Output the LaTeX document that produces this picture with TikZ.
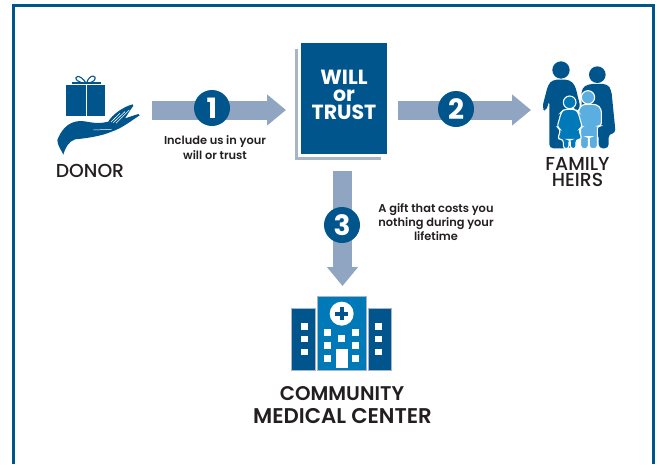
\documentclass[tikz,border=0pt]{standalone}
\usepackage{fontspec}
\setmainfont{Poppins}[UprightFont=* Medium,BoldFont=* SemiBold]
\newfontfamily\heavyfont{Poppins}[UprightFont=* Bold]
\usetikzlibrary{arrows.meta}
\definecolor{navy}{HTML}{00558C}
\definecolor{midblue}{HTML}{0079B8}
\definecolor{lightblue}{HTML}{5AAEE0}
\definecolor{steel}{HTML}{8FA5C2}
\definecolor{pale}{HTML}{A9B4C6}
\definecolor{ink}{HTML}{231F20}
\tikzset{
  x=1pt,y=-1pt,
  bigarrow/.style={draw=steel,line width=19pt,-{Triangle[width=30pt,length=19pt,fill=steel]}},
  numdisc/.style={circle,fill=navy,text=white,minimum size=36pt,inner sep=0pt,font=\fontsize{28}{28}\selectfont\heavyfont},
  capt/.style={align=center,text=ink,inner sep=0pt,font=\fontsize{18.8}{16}\selectfont},
  headline/.style={text=ink,inner sep=0pt,font=\bfseries},
  small/.style={align=center,text=ink,inner sep=0pt,font=\fontsize{11.4}{14.4}\selectfont\bfseries},
  zoomed/.style={x=0.3333pt,y=-0.3333pt},
  win/.style={fill=white},
}
\begin{document}
\begin{tikzpicture}
\useasboundingbox (0,0) rectangle (660,464);
% frame
\draw[navy,line width=3pt] (13,464) -- (13,5.5) -- (653.5,5.5) -- (653.5,464);

% connector end points
\coordinate (a1s) at (152,110);
\coordinate (a1e) at (286,110);
\coordinate (a2s) at (398,110);
\coordinate (a2e) at (531,110);
\coordinate (a3s) at (342.5,171);
\coordinate (a3e) at (342.5,286);

% book
\draw[pale,line width=3pt] (296.5,49) -- (296.5,158.5) -- (381,158.5);
\node[fill=navy,minimum width=86pt,minimum height=111pt,inner sep=0pt,anchor=north west] (book) at (301,43) {};
\node[text=white,align=center,inner sep=0pt,font=\fontsize{20.5}{17.5}\selectfont\heavyfont] (booktitle) at (344,94.5) {WILL\\or\\TRUST};

% arrows
\draw[bigarrow] (a1s) -- (a1e);
\draw[bigarrow] (a2s) -- (a2e);
\draw[bigarrow] (a3s) -- (a3e);
\node[numdisc] (n1) at (212,108) {1};
\node[numdisc] (n2) at (456,109) {2};
\node[numdisc] (n3) at (342,225) {3};

% labels
\node[capt] (donor) at (90,171) {DONOR};
\node[capt] (heirs) at (577.5,172.5) {FAMILY\\HEIRS};
\node[small] (l1) at (215,147.5) {Include us in your\\will or trust};
\node[small] (l3) at (436,222) {A gift that costs you\\nothing during your\\lifetime};
\node[headline,font=\fontsize{19.8}{22}\selectfont\bfseries] (cmc1) at (342,394) {COMMUNITY};
\node[headline,font=\fontsize{21.3}{22}\selectfont\bfseries] (cmc2) at (342.5,416) {MEDICAL CENTER};

% donor icon
\begin{scope}[shift={(30,50)},zoomed]
  \fill[navy] (108,105) rectangle (167,197);
  \fill[navy] (172,105) rectangle (226,197);
  \draw[navy,line width=1.1pt] (125,99) -- (212,99);
  \draw[navy,line width=1.1pt] (168,99) .. controls (150,70) and (128,78) .. (142,92) .. controls (150,99) and (160,99) .. (168,99);
  \draw[navy,line width=1.1pt] (170,99) .. controls (178,70) and (205,75) .. (192,92) .. controls (186,99) and (176,99) .. (170,99);
  \fill[navy] (100,314) .. controls (95,300) and (85,295) .. (82,270)
    .. controls (92,245) and (110,215) .. (150,213)
    .. controls (175,213) and (195,225) .. (235,215)
    .. controls (245,195) and (280,170) .. (308,163)
    -- (310,168) .. controls (300,180) and (295,190) .. (285,205)
    -- (325,192) -- (329,196)
    .. controls (300,215) and (275,235) .. (245,245)
    .. controls (215,258) and (170,265) .. (135,268)
    .. controls (115,275) and (105,295) .. (100,314) -- cycle;
  \draw[white,line width=0.6pt] (243,216) -- (270,190);
  \draw[white,line width=0.6pt] (250,218) -- (285,185);
  \draw[white,line width=0.6pt] (258,220) -- (298,180);
  \draw[white,line width=0.5pt] (190,240) -- (245,238);
\end{scope}

% family icon
\begin{scope}[shift={(520,40)},zoomed]
  \fill[navy] (123,90) circle (26);
  \fill[navy] (232,104) circle (25);
  \fill[navy,rounded corners=4pt] (98,119) -- (148,119) -- (165,135) -- (182,205) -- (165,215) -- (155,180)
     -- (155,325) -- (88,325) -- (88,180) -- (78,215) -- (66,205) -- (84,135) -- cycle;
  \fill[navy,rounded corners=4pt] (205,132) -- (262,132) -- (274,150) -- (287,280) -- (266,281) -- (266,325) -- (236,325) -- (236,281)
     -- (185,281) -- (185,145) -- cycle;
  % boy
  \fill[lightblue,draw=white,line width=1.1pt,rounded corners=3pt] (188,193) -- (230,193) -- (244,207) -- (244,258) -- (232,258) -- (232,326)
     -- (208,326) -- (208,290) -- (205,290) -- (205,326) -- (182,326) -- (182,258) -- (176,258) -- (176,207) -- cycle;
  \fill[lightblue,draw=white,line width=1.1pt] (204,172) circle (20);
  % girl
  \fill[midblue,draw=white,line width=1.1pt,rounded corners=3pt] (132,208) -- (166,208) -- (174,216) -- (187,262) -- (176,268) -- (186,298) -- (168,298) -- (168,326)
     -- (151,326) -- (151,298) -- (147,298) -- (147,326) -- (130,326) -- (130,298) -- (113,298) -- (122,268) -- (111,262) -- (124,216) -- cycle;
  \fill[midblue,draw=white,line width=1.1pt] (149,187) circle (19);
\end{scope}

% hospital icon
\begin{scope}[shift={(270,280)},zoomed]
  \fill[navy,draw=pale,line width=0.4pt] (65,86) rectangle (136,270);
  \fill[navy,draw=pale,line width=0.4pt] (294,86) rectangle (365,270);
  \fill[midblue,draw=pale,line width=0.4pt] (143,50) rectangle (288,270);
  \fill[white] (215,101) circle (36);
  \fill[navy] (209,82) rectangle (221,120);
  \fill[navy] (196,95) rectangle (234,107);
  \foreach \wy in {130,168,207}{
    \fill[win] (93,\wy) rectangle ++(21,19);
    \fill[win] (316,\wy) rectangle ++(21,19);
  }
  \foreach \wy in {148,187,225}{
    \fill[win] (163,\wy) rectangle ++(21,20);
    \fill[win] (247,\wy) rectangle ++(21,20);
  }
  \fill[win] (205,166) rectangle ++(21,20);
  \fill[win] (197,207) rectangle (233,265);
\end{scope}
\end{tikzpicture}
\end{document}
